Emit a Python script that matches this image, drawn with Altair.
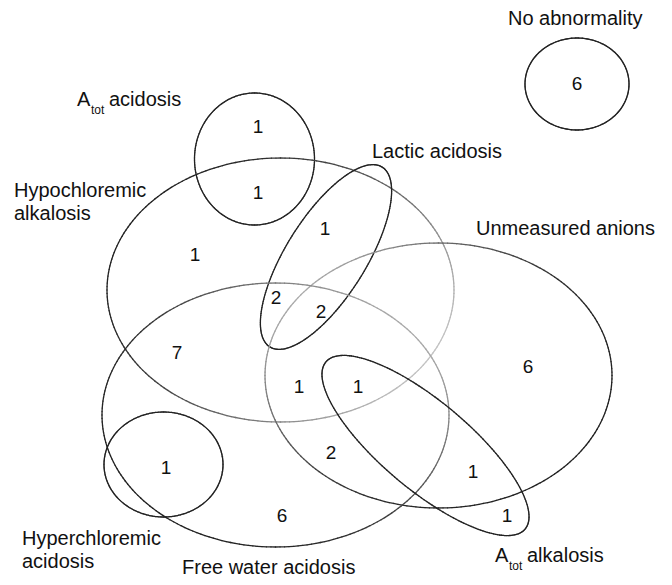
import altair as alt
import numpy as np
import pandas as pd

# Ellipse (set) outlines: name, centre x, centre y, semi-axis a, semi-axis b, rotation (deg)
set_names = ["No abnormality", "Atot acidosis", "Hypochloremic alkalosis", "Lactic acidosis",
             "Unmeasured anions", "Free water acidosis", "Atot alkalosis", "Hyperchloremic acidosis"]
set_cx = [577, 254.5, 280.5, 326, 438.5, 275.5, 425.5, 163.5]
set_cy = [84, 159, 290, 257, 375.5, 415, 445.5, 464.5]
set_a = [52, 60, 173.5, 106, 173.5, 173.5, 130, 59.5]
set_b = [46, 66, 132, 40, 132.5, 132, 44, 52.5]
set_rot = [0, 0, 0, 58, 0, 0, -40, 0]
# outline shading: direction (deg) where the outline fades, strength and sharpness
set_fade_dir = [0, 0, -30, 0, 145, 40, 0, 0]
set_fade_amt = [0, 0, 1.0, 0, 0.85, 0.85, 0, 0]
set_fade_pow = [1, 1, 1.6, 1, 2.6, 2.2, 1, 1]

# Region counts
count_x = [577, 258, 258, 195, 325, 276, 321, 177, 299, 358, 528, 331, 473, 507, 166, 282]
count_y = [84, 127, 193, 255, 229, 298, 312, 353, 387, 387, 367, 453, 472, 516, 468, 516]
count_txt = ["6", "1", "1", "1", "1", "2", "2", "7", "1", "1", "6", "2", "1", "1", "1", "6"]

# Set labels
label_txt = ["No abnormality", "A", "acidosis", "Hypochloremic", "alkalosis", "Lactic acidosis",
             "Unmeasured anions", "Hyperchloremic", "acidosis", "Free water acidosis",
             "A", "alkalosis"]
label_x = [508, 77, 109, 14, 14, 372, 476, 22, 22, 182, 495, 527]
label_y = [19, 100, 100, 191, 214, 152, 229, 539, 562, 568, 556, 556]

sub_txt = ["tot", "tot"]
sub_x = [91, 509]
sub_y = [110, 566]

segs = []
N = 240
t = np.linspace(0, 2 * np.pi, N + 1)
for n, cx, cy, a, b, r, fd, fa, fp in zip(set_names, set_cx, set_cy, set_a, set_b, set_rot,
                                          set_fade_dir, set_fade_amt, set_fade_pow):
    th = np.deg2rad(r)
    xs_ = cx + a * np.cos(t) * np.cos(th) - b * np.sin(t) * np.sin(th)
    ys_ = cy - (a * np.cos(t) * np.sin(th) + b * np.sin(t) * np.cos(th))
    for i in range(N):
        tm = 0.5 * (t[i] + t[i + 1])
        w = fa * ((1.0 + np.cos(tm - np.deg2rad(fd))) / 2.0) ** fp
        g = int(round(34 + (195 - 34) * w))
        segs.append({"set": n, "x": xs_[i], "y": ys_[i], "x2": xs_[i + 1], "y2": ys_[i + 1],
                     "c": "#{0:02x}{0:02x}{0:02x}".format(g)})
ell = pd.DataFrame(segs)

counts = pd.DataFrame({"x": count_x, "y": count_y, "t": count_txt})
labels = pd.DataFrame({"x": label_x, "y": label_y, "t": label_txt})
subs = pd.DataFrame({"x": sub_x, "y": sub_y, "t": sub_txt})

W, H = 656, 569
xs = alt.Scale(domain=[8, 664], nice=False, zero=False)
ys = alt.Scale(domain=[8, 577], nice=False, zero=False, reverse=True)
FONT = "Liberation Sans"

lines = alt.Chart(ell).mark_rule(strokeWidth=1.3, strokeCap="round").encode(
    x=alt.X("x:Q", scale=xs, axis=None),
    y=alt.Y("y:Q", scale=ys, axis=None),
    x2="x2:Q",
    y2="y2:Q",
    color=alt.Color("c:N", scale=None),
)

cnt = alt.Chart(counts).mark_text(font=FONT, fontSize=19, color="#111", align="center",
                                  baseline="middle").encode(
    x=alt.X("x:Q", scale=xs, axis=None), y=alt.Y("y:Q", scale=ys, axis=None), text="t:N")

lab = alt.Chart(labels).mark_text(font=FONT, fontSize=20, color="#111", align="left",
                                  baseline="middle").encode(
    x=alt.X("x:Q", scale=xs, axis=None), y=alt.Y("y:Q", scale=ys, axis=None), text="t:N")

sub = alt.Chart(subs).mark_text(font=FONT, fontSize=12, color="#111", align="left",
                                baseline="middle").encode(
    x=alt.X("x:Q", scale=xs, axis=None), y=alt.Y("y:Q", scale=ys, axis=None), text="t:N")

chart = alt.layer(lines, cnt, lab, sub).properties(
    width=W, height=H, padding=0, autosize=alt.AutoSizeParams(type="none")
).configure_view(stroke=None)

chart.save("out.html", embed_options={"renderer": "svg", "actions": False})
